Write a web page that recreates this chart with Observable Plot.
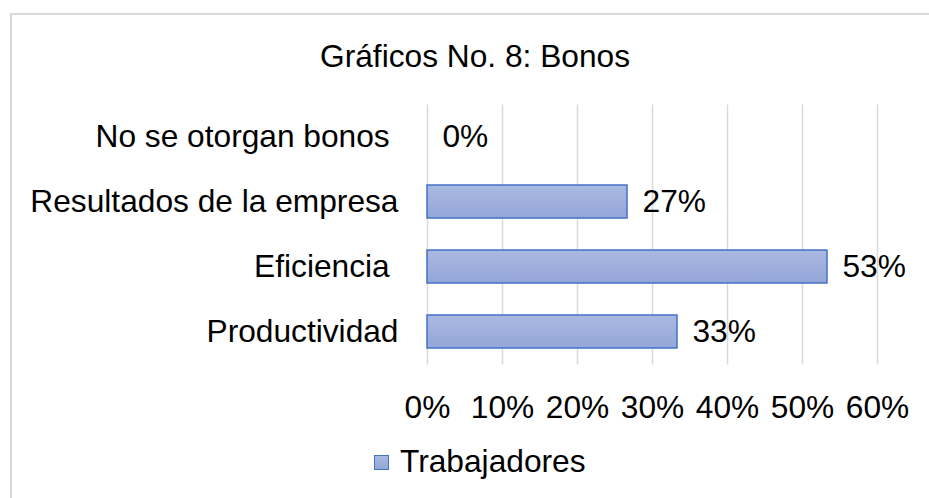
<!DOCTYPE html>
<html><head><meta charset="utf-8">
<script src="https://cdn.jsdelivr.net/npm/d3@7"></script>
<script src="https://cdn.jsdelivr.net/npm/@observablehq/plot@0.6"></script>
<style>
body{margin:0;background:#fff;}
#wrap{position:relative;width:929px;height:498px;overflow:hidden;font-family:"Liberation Sans",Arial,sans-serif;color:#000;}
#frame{position:absolute;left:10px;top:13px;width:940px;height:500px;border-top:2px solid #d9d9d9;border-left:2px solid #d9d9d9;}
#title{position:absolute;left:475px;top:40px;transform:translateX(-50%);font-size:31.7px;line-height:32px;white-space:nowrap;}
#chart{position:absolute;left:0;top:0;}
#legend{position:absolute;left:374px;top:445px;font-size:31.7px;line-height:32px;white-space:nowrap;}
#legend .sw{position:absolute;left:0;top:10px;width:13px;height:13px;background:linear-gradient(#aab9e2,#94a6d8);border:1px solid #4472c4;}
#legend .lb{position:absolute;left:26px;top:0;}
svg text{white-space:pre;}
</style></head>
<body>
<div id="wrap">
  <div id="frame"></div>
  <div id="chart"></div>
  <div id="title">Gráficos No. 8: Bonos</div>
  <div id="legend"><span class="sw"></span><span class="lb">Trabajadores</span></div>
</div>
<script>
const categories = ["No se otorgan bonos ", "Resultados de la empresa", "Eficiencia ", "Productividad"];
const values = [0, 0.2667, 0.5333, 0.3333];
const xTicks = [0, 0.1, 0.2, 0.3, 0.4, 0.5, 0.6];
const seriesName = "Trabajadores";

const data = categories.map((c, i) => ({cat: c, value: values[i]}));
const pct = d3.format(".0%");
const FS = 31.7;

const svg = Plot.plot({
  width: 929, height: 498,
  marginLeft: 427, marginRight: 52, marginTop: 104.5, marginBottom: 133.5,
  x: {domain: [0, 0.6], label: null},
  y: {domain: categories, paddingInner: 0.49, paddingOuter: 0.245, label: null},
  style: {fontFamily: '"Liberation Sans", Arial, sans-serif', fontSize: FS + "px", color: "#000", background: "transparent", overflow: "visible"},
  marks: [
    Plot.gridX(xTicks, {stroke: "#d9d9d9", strokeOpacity: 1, strokeWidth: 1.5}),
    Plot.axisX(xTicks, {tickSize: 0, tickPadding: 30, tickFormat: pct, fontSize: FS, fill: "#000"}),
    Plot.axisY({tickSize: 0, tickPadding: 29, fontSize: FS, fill: "#000"}),
    Plot.barX(data, {filter: d => d.value > 0, x: "value", y: "cat", fill: "url(#barGrad)", stroke: "#4472c4", strokeWidth: 1.5}),
    Plot.text(data, {x: "value", y: "cat", text: d => pct(d.value), textAnchor: "start", dx: 15, fontSize: FS, fill: "#000"})
  ]
});
const defs = d3.select(svg).insert("defs", ":first-child");
const g = defs.append("linearGradient").attr("id", "barGrad").attr("x1", 0).attr("y1", 0).attr("x2", 0).attr("y2", 1);
g.append("stop").attr("offset", "0%").attr("stop-color", "#aab9e2");
g.append("stop").attr("offset", "100%").attr("stop-color", "#94a6d8");
document.getElementById("chart").appendChild(svg);
</script>
</body></html>
